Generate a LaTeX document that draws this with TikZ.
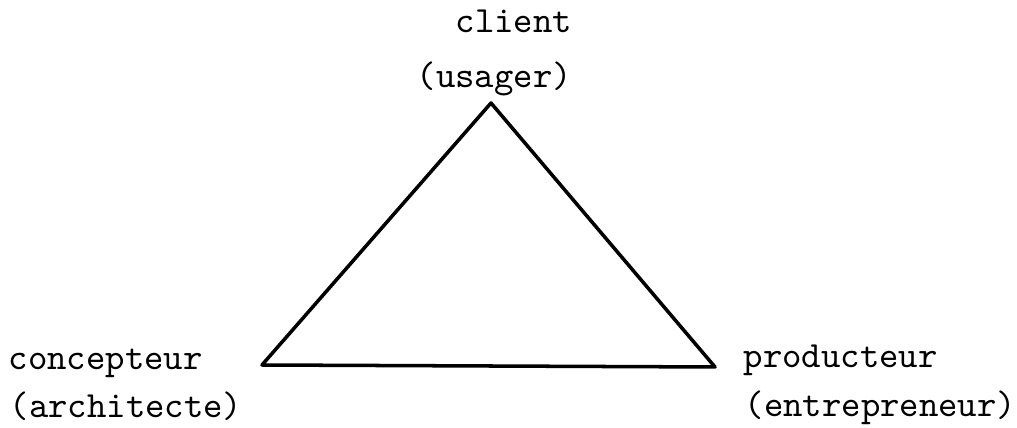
\documentclass[tikz,border=0pt]{standalone}
\tikzset{
  role/.style={anchor=base west,inner sep=0pt,font=\ttfamily\fontsize{10.5}{12}\selectfont},
  side/.style={line width=1pt,line join=round}
}
\begin{document}
\begin{tikzpicture}[x=0.01cm,y=-0.01cm]
        \useasboundingbox (0,0) rectangle (1017,428);
        %% corners
        \coordinate (client) at (491,103);
        \coordinate (concepteur) at (262,365);
        \coordinate (producteur) at (715,367);
        %% triangle
        \draw[side] (client) -- (producteur) -- (concepteur) -- cycle;
        %% top
        \node[role] (clientname) at (455,33) {client};
        \node[role] (clientrole) at (416,88) {(usager)};
        %% left
        \node[role] (conceptname) at (8,370) {concepteur};
        \node[role] (conceptrole) at (9,418) {(architecte)};
        %% right
        \node[role] (prodname) at (743,368) {producteur};
        \node[role] (prodrole) at (744,417) {(entrepreneur)};
    \end{tikzpicture}
\end{document}
